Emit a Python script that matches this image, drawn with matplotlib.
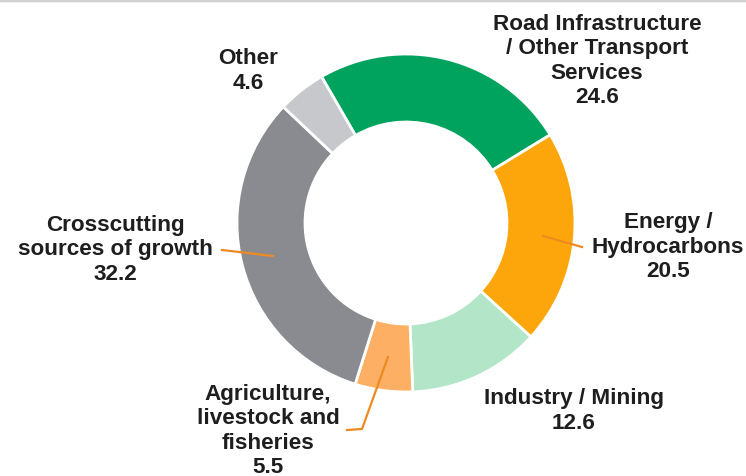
import matplotlib
matplotlib.use("Agg")
import matplotlib.pyplot as plt

# data
sectors = ["Road Infrastructure\n/ Other Transport\nServices", "Energy /\nHydrocarbons",
           "Industry / Mining", "Agriculture,\nlivestock and\nfisheries",
           "Crosscutting\nsources of growth", "Other"]
shares = [24.6, 20.5, 12.6, 5.5, 32.2, 4.6]
colors = ["#00A35E", "#FCA60B", "#B3E5C8", "#FDB063", "#898B90", "#C6C8CB"]

# label positions in pixel space (x, y from top)
label_pos = [(597, 61), (668, 247), (574, 411), (268, 431), (115, 250), (248, 71)]

W, H = 746, 477
fig = plt.figure(figsize=(W / 100, H / 100), dpi=100)
ax = fig.add_axes([0, 0, 1, 1])

ax.pie(shares, colors=colors, startangle=120, counterclock=False,
       center=(406, H - 224), radius=169,
       wedgeprops=dict(width=68, edgecolor="white", linewidth=2))

ax.set_xlim(0, W)
ax.set_ylim(0, H)
ax.set_aspect("auto")
ax.axis("off")

for name, val, (x, y) in zip(sectors, shares, label_pos):
    ax.text(x, H - y, f"{name}\n{val}", ha="center", va="center",
            fontsize=16.2, fontweight="bold", family="Liberation Sans",
            color="#1E1E1E", linespacing=1.22)

# leader lines
lc = "#EE8A22"
ax.plot([543, 582], [H - 237, H - 248], color=lc, lw=1.6)
ax.plot([222, 273], [H - 251, H - 257], color=lc, lw=1.6)
ax.plot([388, 362, 347], [H - 358, H - 430, H - 431], color=lc, lw=1.6)

# thin frame line at the top
ax.plot([0, W], [H - 1, H - 1], color="#D0D0D0", lw=2.5)

fig.savefig("out.png", dpi=100)
